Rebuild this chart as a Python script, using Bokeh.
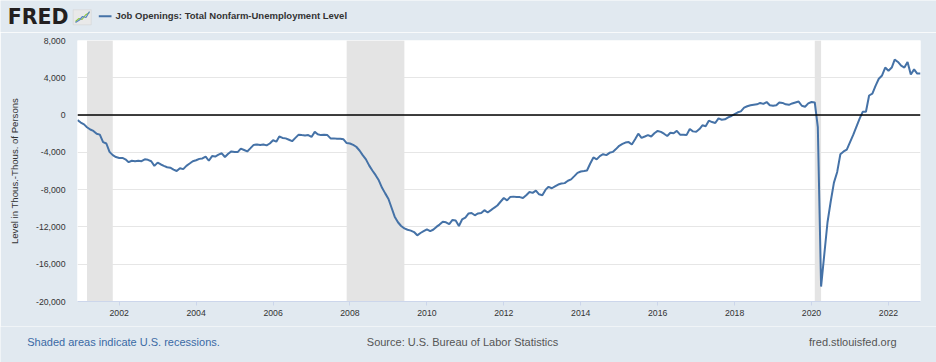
import pandas as pd
from datetime import datetime
from bokeh.plotting import figure
from bokeh.layouts import column, row
from bokeh.models import (Range1d, FixedTicker, NumeralTickFormatter, DatetimeTickFormatter, Span)
from bokeh.core.properties import value
from bokeh.embed import file_html
from bokeh.resources import INLINE

# ---------------- data (thousands of persons), monthly from Dec 2000 ----------------
series_name = "Job Openings: Total Nonfarm-Unemployment Level"
first_month = "2000-12-01"
y2000 = [-540]
y2001 = [-800, -1000, -1300, -1550, -1700, -2000, -2100, -2900, -3050, -3950, -4300, -4500]
y2002 = [-4600, -4600, -4750, -5050, -4900, -4950, -4900, -4950, -4750, -4800, -4950, -5450]
y2003 = [-5100, -5300, -5450, -5600, -5650, -5850, -6000, -5700, -5800, -5450, -5200, -4950]
y2004 = [-4850, -4700, -4650, -4450, -4900, -4400, -4450, -4250, -4100, -4500, -4150, -3900]
y2005 = [-3950, -3950, -3600, -3750, -3900, -3550, -3200, -3150, -3200, -3150, -3250, -3050]
y2006 = [-2700, -2850, -2300, -2450, -2500, -2650, -2800, -2450, -2100, -2150, -2200, -2150]
y2007 = [-2350, -1800, -2050, -2150, -2100, -2150, -2500, -2500, -2550, -2550, -2600, -3000]
y2008 = [-3050, -3200, -3400, -3800, -4300, -4750, -5400, -5950, -6450, -7000, -7800, -8400]
y2009 = [-9000, -10000, -10900, -11500, -11900, -12150, -12300, -12400, -12550, -12900, -12650, -12450]
y2010 = [-12250, -12450, -12300, -12000, -11750, -11450, -11500, -11700, -11250, -11300, -11900, -11200]
y2011 = [-11000, -10550, -10500, -10750, -10550, -10500, -10200, -10450, -10200, -9950, -9700, -9300]
y2012 = [-8900, -9150, -8800, -8750, -8800, -8800, -8900, -8600, -8250, -8350, -8100, -8500]
y2013 = [-8600, -8000, -7700, -7850, -7650, -7450, -7350, -7300, -7050, -6900, -6550, -6200]
y2014 = [-6050, -6000, -5950, -5200, -4550, -4750, -4400, -4200, -4300, -4050, -3950, -3650]
y2015 = [-3300, -3100, -2950, -2900, -3150, -2600, -2000, -2450, -2300, -2150, -2300, -1950]
y2016 = [-1700, -1800, -2000, -2250, -1900, -1950, -1700, -2100, -2100, -2150, -1500, -1750]
y2017 = [-1800, -1500, -1100, -1200, -600, -750, -850, -350, -500, -450, -250, -100]
y2018 = [100, 300, 400, 800, 950, 1050, 1100, 1150, 1300, 1200, 1400, 1050]
y2019 = [1000, 1050, 1350, 1300, 1150, 1100, 1250, 1350, 1450, 1000, 900, 1250]
y2020 = [1400, 1350, -1300, -18400, -15000, -11500, -9300, -7250, -6100, -4200, -3900, -3700]
y2021 = [-2900, -2100, -1300, -400, 350, 350, 2100, 2300, 3150, 3900, 4250, 5100]
y2022 = [4750, 5100, 5950, 5700, 5300, 5100, 5700, 4350, 4900, 4450, 4450]

recession_starts = ["2001-03-01", "2007-12-01", "2020-02-01"]
recession_ends = ["2001-11-01", "2009-06-01", "2020-04-01"]

y_ticks = [-20000, -16000, -12000, -8000, -4000, 0, 4000, 8000]
x_tick_years = [2002, 2004, 2006, 2008, 2010, 2012, 2014, 2016, 2018, 2020, 2022]
y_axis_title = "Level in Thous.-Thous. of Persons"
logo_text = "FRED"
note_text = "Shaded areas indicate U.S. recessions."
source_text = "Source: U.S. Bureau of Labor Statistics"
site_text = "fred.stlouisfed.org"

values = (y2000 + y2001 + y2002 + y2003 + y2004 + y2005 + y2006 + y2007 + y2008 + y2009 + y2010 +
          y2011 + y2012 + y2013 + y2014 + y2015 + y2016 + y2017 + y2018 + y2019 + y2020 + y2021 + y2022)
dates = pd.date_range(first_month, periods=len(values), freq="MS")

BG = "#e1e9f0"
LINE = "#4572a7"
FONT = "Liberation Sans"
W = 936
H_HEAD, H_MAIN, H_FOOT = 32, 294, 36


def canvas_fig(h):
    fig = figure(width=W, height=h, x_range=Range1d(0, W), y_range=Range1d(0, h),
                 x_axis_location=None, y_axis_location=None, output_backend="svg",
                 toolbar_location=None, background_fill_color=BG, border_fill_color=BG,
                 min_border=0, min_border_left=0, min_border_right=0,
                 min_border_top=0, min_border_bottom=0)
    fig.outline_line_color = None
    fig.xgrid.visible = False
    fig.ygrid.visible = False
    return fig


# ---------------- header (pixel coordinate canvas) ----------------
head = canvas_fig(H_HEAD)
head.text(x=[7.2], y=[15.6], text=[logo_text], text_font=value("DejaVu Sans"),
          text_font_style=value("bold"), text_font_size=value("20.5px"),
          text_color="#231f20", text_baseline="middle")
head.quad(left=[72.7], right=[90.7], bottom=[7.7], top=[22.7],
          fill_color="#e9e9e9", line_color="#d4d4d4", line_width=0.6)
head.line(x=[75, 78.5, 81.5, 85, 89], y=[11, 14, 13, 17.5, 20], line_color="#8dc63f", line_width=1.2)
head.line(x=[75, 79, 82, 85.5, 89], y=[10, 12.5, 16, 15, 21], line_color="#5a86c0", line_width=1.2)
head.line(x=[98.3, 111], y=[16.3, 16.3], line_color=LINE, line_width=2)
head.text(x=[115], y=[16.8], text=[series_name], text_font=value(FONT),
          text_font_style=value("bold"), text_font_size=value("9.5px"),
          text_color="#333333", text_baseline="middle")

# ---------------- main chart ----------------
p = figure(width=W, height=H_MAIN, x_axis_type="datetime",
           x_range=Range1d(dates[0], dates[-1]), y_range=Range1d(y_ticks[0], y_ticks[-1]),
           output_backend="svg", toolbar_location=None,
           min_border_left=77, min_border_right=16, min_border_top=8, min_border_bottom=25,
           background_fill_color="white", border_fill_color=BG)
p.outline_line_color = None

p.quad(left=pd.to_datetime(recession_starts), right=pd.to_datetime(recession_ends),
       bottom=y_ticks[0], top=y_ticks[-1], fill_color="#e4e4e4", line_color=None)
p.add_layout(Span(location=0, dimension="width", line_color="black", line_width=1.6))
p.line(dates, values, line_color=LINE, line_width=2)

p.yaxis.ticker = FixedTicker(ticks=y_ticks)
p.yaxis.formatter = NumeralTickFormatter(format="0,0")
p.yaxis.axis_line_color = None
p.yaxis.major_tick_line_color = None
p.yaxis.minor_tick_line_color = None
p.yaxis.major_tick_out = 0
p.yaxis.major_tick_in = 0
p.yaxis.major_label_standoff = 12
p.yaxis.major_label_text_font = FONT
p.yaxis.major_label_text_font_size = "8.7px"
p.yaxis.major_label_text_color = "#333333"
p.yaxis.axis_label = y_axis_title
p.yaxis.axis_label_text_font = FONT
p.yaxis.axis_label_text_font_style = "normal"
p.yaxis.axis_label_text_font_size = "9.6px"
p.yaxis.axis_label_text_color = "#333333"
p.yaxis.axis_label_standoff = 13

tick_ms = [datetime(y, 1, 1).timestamp() * 1000 for y in x_tick_years]
p.xaxis.ticker = FixedTicker(ticks=tick_ms)
p.xaxis.formatter = DatetimeTickFormatter(years="%Y", months="%Y", days="%Y", hours="%Y")
p.xaxis.axis_line_color = "#ccd6eb"
p.xaxis.major_tick_line_color = "#ccd6eb"
p.xaxis.minor_tick_line_color = None
p.xaxis.major_tick_out = 4
p.xaxis.major_tick_in = 0
p.xaxis.major_label_standoff = 4
p.xaxis.major_label_text_font = FONT
p.xaxis.major_label_text_font_size = "8.7px"
p.xaxis.major_label_text_color = "#333333"

p.xgrid.grid_line_color = None
p.ygrid.grid_line_color = "#e6e6e6"

# ---------------- footer ----------------
foot = canvas_fig(H_FOOT)
foot.text(x=[26.7], y=[20.5], text=[note_text], text_font=value(FONT),
          text_font_size=value("11px"), text_color="#3a6aa5", text_baseline="middle")
foot.text(x=[366.3], y=[20.5], text=[source_text], text_font=value(FONT),
          text_font_size=value("11px"), text_color="#555555", text_baseline="middle")
foot.text(x=[896], y=[20.5], text=[site_text], text_font=value(FONT),
          text_font_size=value("11px"), text_color="#555555", text_baseline="middle",
          text_align="right")

layout = column(row(head), p, row(foot), spacing=0)
open("out.html", "w").write(file_html(layout, INLINE))
